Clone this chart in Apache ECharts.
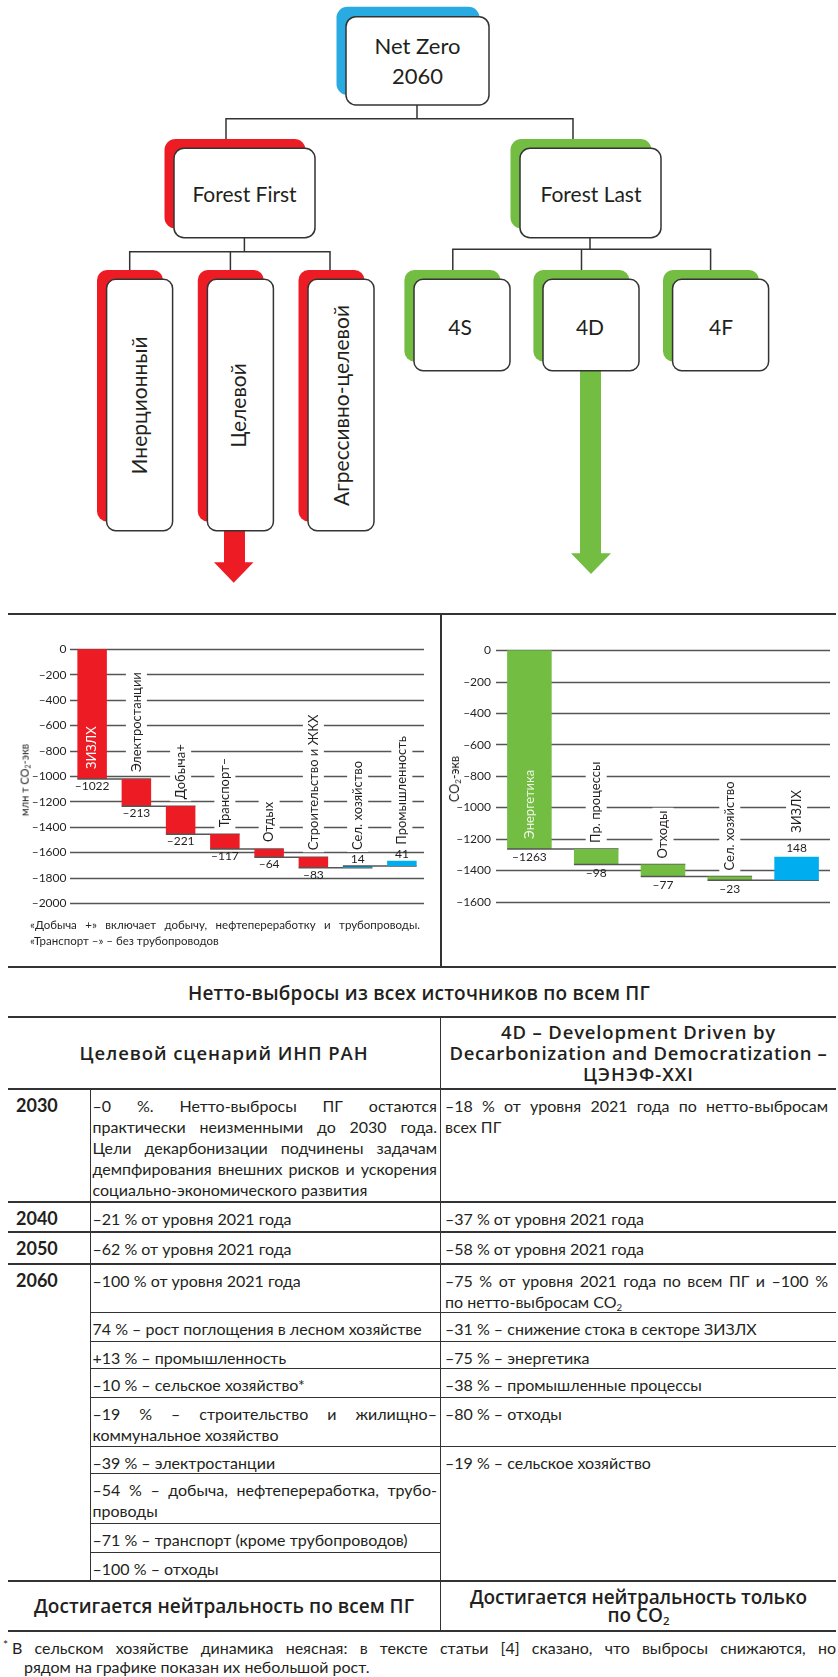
<!DOCTYPE html>
<html lang="ru">
<head>
<meta charset="utf-8">
<title>Net Zero 2060 — Forest First / Forest Last</title>
<script src="https://cdn.jsdelivr.net/npm/echarts@6/dist/echarts.min.js"></script>
<style>
  html, body { margin: 0; padding: 0; background: #fff; }
  body { position: relative; width: 838px; height: 1677px; overflow: hidden;
         font-family: Lato, "Noto Sans", sans-serif; color: #231f20; }
  #tree { position: absolute; left: 0; top: 0; }
  #tree text { font-family: Lato, sans-serif; fill: #231f20; }
  #charts { position: absolute; left: 0; top: 613px; width: 838px; height: 354px; }
  .rule { position: absolute; background: #333; }
  .ylab { position: absolute; white-space: nowrap; transform: translate(-50%, -50%) rotate(-90deg); }
  .ylab sub { font-size: 0.65em; vertical-align: -0.25em; }
  .note { position: absolute; left: 30px; width: 390px; font-size: 11.5px; line-height: 16px; }
  .heavy { font-family: "Open Sans", Lato, sans-serif; font-weight: 600; }
  #title { position: absolute; left: 0; top: 983px; width: 838px; text-align: center;
           font-size: 19px; line-height: 20px; }
  #tbl { position: absolute; left: 8px; top: 1016px; width: 828px; border-collapse: collapse;
         table-layout: fixed; font-size: 16px; line-height: 21px; }
  #tbl td { vertical-align: top; padding: 5px 8px 0 4px; border-bottom: 1.5px solid #333; }
  #tbl td.yr { font-weight: 700; font-size: 18px; padding-left: 8px; border-right: 1.5px solid #333; }
  #tbl td.lc { padding: 5px 3px 0 2px; border-right: 1.5px solid #333; }
  #tbl tr.major > td { border-bottom: 2px solid #333; }
  #tbl td.hd { vertical-align: middle; text-align: center; font-size: 18.5px;
               border-top: 2.5px solid #333; border-bottom: 2px solid #333; padding: 0; }
  #tbl td.ft { vertical-align: middle; text-align: center; font-size: 19px;
               line-height: 18.5px; border-top: 2.5px solid #333; border-bottom: 2.5px solid #333; padding: 0; }
  #tbl td.left-edge { border-right: 1.5px solid #333; }
  #tbl sub { font-size: 0.6em; vertical-align: -0.3em; line-height: 0; }
  .jl { display: flex; justify-content: space-between; column-gap: 3px; white-space: nowrap; }
  .ln { white-space: nowrap; }
  .foot { position: absolute; left: 0; width: 836px; top: 1638px; font-size: 16px; line-height: 19px; }
  .foot .star { position: absolute; left: 3px; top: -3px; font-size: 12px; }
</style>
</head>
<body>

<svg id="tree" width="838" height="600" viewBox="0 0 838 600">
  <!-- connectors -->
  <g fill="none" stroke="#333" stroke-width="1.5">
    <path d="M417 105 V118.7 M226 139 V118.7 H573 V139"/>
    <path d="M244.4 237.7 V251.7 M129.7 270 V251.7 H330 V270 M230.4 251.7 V270"/>
    <path d="M590 237.7 V249.3 M452.8 270 V249.3 H710.6 V270 M581.5 249.3 V270"/>
  </g>
  <!-- arrows -->
  <polygon fill="#ed1c24" points="224,528 245,528 245,562.3 253.5,562.3 233.7,582.7 214,562.3 224,562.3"/>
  <polygon fill="#74bd43" points="580,368 601,368 601,553.3 611,553.3 591,574 571,553.3 580,553.3"/>
  <!-- coloured backs -->
  <g>
    <rect x="336.5" y="6.7" width="143" height="88.3" rx="11" fill="#29abe2"/>
    <rect x="164.5" y="139" width="141" height="89.4" rx="11" fill="#ed1c24"/>
    <rect x="510.5" y="139" width="141" height="89.4" rx="11" fill="#74bd43"/>
    <rect x="97" y="270" width="66" height="251.4" rx="10" fill="#ed1c24"/>
    <rect x="197.8" y="270" width="66" height="251.4" rx="10" fill="#ed1c24"/>
    <rect x="298.5" y="270" width="66" height="251.4" rx="10" fill="#ed1c24"/>
    <rect x="404.4" y="270" width="96" height="91.4" rx="10" fill="#74bd43"/>
    <rect x="533.4" y="270" width="96" height="91.4" rx="10" fill="#74bd43"/>
    <rect x="663" y="270" width="96" height="91.4" rx="10" fill="#74bd43"/>
  </g>
  <!-- white boxes -->
  <g fill="#fff" stroke="#333" stroke-width="1.5">
    <rect x="346" y="16.7" width="143" height="88.3" rx="10"/>
    <rect x="174" y="148.3" width="141" height="89.4" rx="10"/>
    <rect x="520" y="148.3" width="141" height="89.4" rx="10"/>
    <rect x="106.6" y="279.3" width="66" height="251.4" rx="9"/>
    <rect x="207.4" y="279.3" width="66" height="251.4" rx="9"/>
    <rect x="308" y="279.3" width="66" height="251.4" rx="9"/>
    <rect x="414" y="279.3" width="96" height="91.4" rx="9"/>
    <rect x="543" y="279.3" width="96" height="91.4" rx="9"/>
    <rect x="672.6" y="279.3" width="96" height="91.4" rx="9"/>
  </g>
  <g text-anchor="middle" dominant-baseline="central">
    <text x="417.5" y="45" font-size="22">Net Zero</text>
    <text x="417.5" y="75" font-size="22">2060</text>
    <text x="244.5" y="193.3" font-size="21">Forest First</text>
    <text x="591" y="193.3" font-size="21">Forest Last</text>
    <text font-size="21" transform="translate(138.5,405.5) rotate(-90)">Инерционный</text>
    <text font-size="21" transform="translate(237.5,405.5) rotate(-90)">Целевой</text>
    <text font-size="21" transform="translate(340.5,405.5) rotate(-90)">Агрессивно-целевой</text>
    <text x="460" y="326" font-size="21">4S</text>
    <text x="590" y="326" font-size="21">4D</text>
    <text x="721" y="326" font-size="21">4F</text>
  </g>
</svg>

<div class="rule" style="left:8px; top:613px; width:828px; height:2px"></div>
<div class="rule" style="left:8px; top:966px; width:828px; height:2px"></div>
<div class="rule" style="left:439.5px; top:613px; width:2px; height:355px"></div>

<div id="charts"></div>

<div class="ylab" style="left:25px; top:780px; font-size:11px">млн т CO<sub>2</sub>-экв</div>
<div class="ylab" style="left:455px; top:779px; font-size:12.5px">CO<sub>2</sub>-экв</div>

<div class="note" style="top:917px"><div class="jl">«Добыча +» включает добычу, нефтепереработку и трубопроводы.</div><div class="ln">«Транспорт –» – без трубопроводов</div></div>

<div id="title" class="heavy"><span data-w="462">Нетто-выбросы из всех источников по всем ПГ</span></div>

<table id="tbl">
  <colgroup><col style="width:82px"><col style="width:350.5px"><col style="width:395.5px"></colgroup>
  <tr style="height:71.7px">
    <td colspan="2" class="hd heavy left-edge"><span data-w="289">Целевой сценарий ИНП РАН</span></td>
    <td class="hd heavy" style="line-height:21px"><span data-w="275">4D – Development Driven by</span><br><span data-w="378">Decarbonization and Democratization –</span><br><span data-w="132">ЦЭНЭФ-XXI</span></td>
  </tr>
  <tr class="major" style="height:113px">
    <td class="yr">2030</td>
    <td class="lc">
      <div class="jl">–0 %. Нетто-выбросы ПГ остаются</div>
      <div class="jl">практически неизменными до 2030 года.</div>
      <div class="jl">Цели декарбонизации подчинены задачам</div>
      <div class="jl">демпфирования внешних рисков и ускорения</div>
      <div class="ln">социально-экономического развития</div>
    </td>
    <td>
      <div class="jl">–18 % от уровня 2021 года по нетто-выбросам</div>
      <div class="ln">всех ПГ</div>
    </td>
  </tr>
  <tr class="major" style="height:30px">
    <td class="yr">2040</td>
    <td class="lc"><div class="ln">–21 % от уровня 2021 года</div></td>
    <td><div class="ln">–37 % от уровня 2021 года</div></td>
  </tr>
  <tr class="major" style="height:32.6px">
    <td class="yr">2050</td>
    <td class="lc"><div class="ln">–62 % от уровня 2021 года</div></td>
    <td><div class="ln">–58 % от уровня 2021 года</div></td>
  </tr>
  <tr style="height:48.4px">
    <td class="yr" rowspan="9">2060</td>
    <td class="lc"><div class="ln">–100 % от уровня 2021 года</div></td>
    <td>
      <div class="jl">–75 % от уровня 2021 года по всем ПГ и –100 %</div>
      <div class="ln">по нетто-выбросам CO<sub>2</sub></div>
    </td>
  </tr>
  <tr style="height:28.3px">
    <td class="lc"><div class="ln">74 % – рост поглощения в лесном хозяйстве</div></td>
    <td><div class="ln">–31 % – снижение стока в секторе ЗИЗЛХ</div></td>
  </tr>
  <tr style="height:27.7px">
    <td class="lc"><div class="ln">+13 % – промышленность</div></td>
    <td><div class="ln">–75 % – энергетика</div></td>
  </tr>
  <tr style="height:28.3px">
    <td class="lc"><div class="ln">–10 % – сельское хозяйство*</div></td>
    <td><div class="ln">–38 % – промышленные процессы</div></td>
  </tr>
  <tr style="height:49px">
    <td class="lc">
      <div class="jl">–19 % – строительство и жилищно–</div>
      <div class="ln">коммунальное хозяйство</div>
    </td>
    <td><div class="ln">–80 % – отходы</div></td>
  </tr>
  <tr style="height:27.7px">
    <td class="lc"><div class="ln">–39 % – электростанции</div></td>
    <td rowspan="4"><div class="ln">–19 % – сельское хозяйство</div></td>
  </tr>
  <tr style="height:50px">
    <td class="lc">
      <div class="jl">–54 % – добыча, нефтепереработка, трубо-</div>
      <div class="ln">проводы</div>
    </td>
  </tr>
  <tr style="height:29px">
    <td class="lc"><div class="ln">–71 % – транспорт (кроме трубопроводов)</div></td>
  </tr>
  <tr style="height:28.3px">
    <td class="lc"><div class="ln">–100 % – отходы</div></td>
  </tr>
  <tr style="height:50px">
    <td colspan="2" class="ft heavy left-edge"><span data-w="380">Достигается нейтральность по всем ПГ</span></td>
    <td class="ft heavy"><span data-w="337">Достигается нейтральность только</span><br>по CO<sub>2</sub></td>
  </tr>
</table>

<div class="foot">
  <span class="star">*</span>
  <div class="jl" style="margin-left:12px">В сельском хозяйстве динамика неясная: в тексте статьи [4] сказано, что выбросы снижаются, но</div>
  <div class="ln" style="padding-left:24px">рядом на графике показан их небольшой рост.</div>
</div>

<script>
// Forest First, целевой сценарий ИНП РАН: вклад секторов, млн т CO2-экв
const ffSectors = ['ЗИЗЛХ', 'Электростанции', 'Добыча+', 'Транспорт–', 'Отдых', 'Строительство и ЖКХ', 'Сел. хозяйство', 'Промышленность'];
const ffDelta = [-1022, -213, -221, -117, -64, -83, 14, 41];
const ffMin = -2000, ffMax = 0, ffStep = 200;

// Forest Last, 4D (ЦЭНЭФ-XXI)
const fdSectors = ['Энергетика', 'Пр. процессы', 'Отходы', 'Сел. хозяйство', 'ЗИЗЛХ'];
const fdDelta = [-1263, -98, -77, -23, 148];
const fdMin = -1600, fdMax = 0, fdStep = 200;

const RED = '#ed1c24', GREEN = '#74bd43', BLUE = '#00aeef', INK = '#231f20';

function dash(v) {
    return v < 0 ? '–' + Math.abs(v) : String(v);
}

// [index, from, to, delta] for every waterfall step
function steps(deltas) {
    let level = 0;
    return deltas.map((d, i) => {
        const from = level;
        level += d;
        return [i, from, level, d];
    });
}

function waterfall(names, look) {
    return function (params, api) {
        const i = api.value(0), from = api.value(1), to = api.value(2), d = api.value(3);
        const band = api.size([1, 0])[0];
        const w = band * look.barShare;
        const pFrom = api.coord([i, from]), pTo = api.coord([i, to]);
        const cx = pFrom[0];
        const top = Math.min(pFrom[1], pTo[1]), bottom = Math.max(pFrom[1], pTo[1]);
        const kids = [{
            type: 'rect',
            shape: {x: cx - w / 2, y: top, width: w, height: Math.max(bottom - top, 1)},
            style: {fill: d < 0 ? look.down : BLUE}
        }];
        if (i < names.length - 1) {
            kids.push({
                type: 'line',
                shape: {x1: cx - w / 2, y1: pTo[1], x2: cx + band + w / 2, y2: pTo[1]},
                style: {stroke: '#555', lineWidth: 1.5}
            });
        }
        kids.push({
            type: 'text',
            x: cx, y: d < 0 ? bottom + look.valueGap : top - look.valueGap,
            style: {text: dash(d), align: 'center', verticalAlign: 'middle', fontSize: 12, fontFamily: 'Lato', fill: INK}
        });
        if (i === 0) {
            kids.push({
                type: 'text', x: cx, y: bottom - 10, rotation: Math.PI / 2,
                style: {text: names[i], align: 'left', verticalAlign: 'middle', fontSize: 13, fontFamily: 'Lato', fill: look.insetFill}
            });
        } else {
            kids.push({
                type: 'text', x: cx, y: top - (d < 0 ? look.nameGap : look.nameGapUp), rotation: Math.PI / 2,
                style: {
                    text: names[i], align: 'left', verticalAlign: 'middle', fontSize: 13, fontFamily: 'Lato', fill: INK,
                    backgroundColor: '#fff', padding: [4, 3, 4, 2]
                }
            });
        }
        return {type: 'group', children: kids};
    };
}

function valueAxis(gridIndex, min, max, step, margin) {
    return {
        gridIndex: gridIndex, type: 'value', min: min, max: max, interval: step,
        axisLine: {show: false}, axisTick: {show: false},
        splitLine: {lineStyle: {color: '#555', width: 1.3}},
        axisLabel: {formatter: dash, fontSize: 12, fontFamily: 'Lato', color: INK, margin: margin}
    };
}

function draw() {
    const chart = echarts.init(document.getElementById('charts'), null, {renderer: 'canvas'});
    chart.setOption({
        animation: false,
        textStyle: {fontFamily: 'Lato'},
        grid: [
            {left: 70, top: 36.3, width: 354, height: 254},
            {left: 496, top: 37.3, width: 334, height: 251.7}
        ],
        xAxis: [
            {gridIndex: 0, type: 'category', data: ffSectors, show: false},
            {gridIndex: 1, type: 'category', data: fdSectors, show: false}
        ],
        yAxis: [
            valueAxis(0, ffMin, ffMax, ffStep, 3.5),
            valueAxis(1, fdMin, fdMax, fdStep, 5)
        ],
        series: [
            {
                type: 'custom', xAxisIndex: 0, yAxisIndex: 0,
                data: steps(ffDelta), encode: {x: 0, y: [1, 2]},
                renderItem: waterfall(ffSectors, {barShare: 0.667, down: RED, insetFill: '#fff', valueGap: 7, nameGap: 5, nameGapUp: 14})
            },
            {
                type: 'custom', xAxisIndex: 1, yAxisIndex: 1,
                data: steps(fdDelta), encode: {x: 0, y: [1, 2]},
                renderItem: waterfall(fdSectors, {barShare: 0.667, down: GREEN, insetFill: '#eef7e6', valueGap: 8.5, nameGap: 4, nameGapUp: 22})
            }
        ]
    });
}

function layoutText() {
    document.querySelectorAll('.jl').forEach(el => {
        const words = el.textContent.trim().split(/\s+/);
        el.textContent = '';
        words.forEach(w => {
            const s = document.createElement('span');
            s.textContent = w;
            el.appendChild(s);
        });
    });
    document.querySelectorAll('.jl, .ln').forEach(el => {
        let ls = 0;
        while (el.scrollWidth > el.clientWidth + 0.5 && ls > -1.5) {
            ls -= 0.1;
            el.style.letterSpacing = ls.toFixed(1) + 'px';
        }
    });
    // headings: stretch towards the printed width, but never track them out by more than 1px
    document.querySelectorAll('[data-w]').forEach(el => {
        const n = [...el.textContent].length;
        const w = el.getBoundingClientRect().width;
        const ls = Math.max(-0.5, Math.min(1, (+el.dataset.w - w) / n));
        el.style.letterSpacing = ls.toFixed(2) + 'px';
    });
}

document.fonts.ready.then(() => {
    layoutText();
    draw();
});
</script>
</body>
</html>
